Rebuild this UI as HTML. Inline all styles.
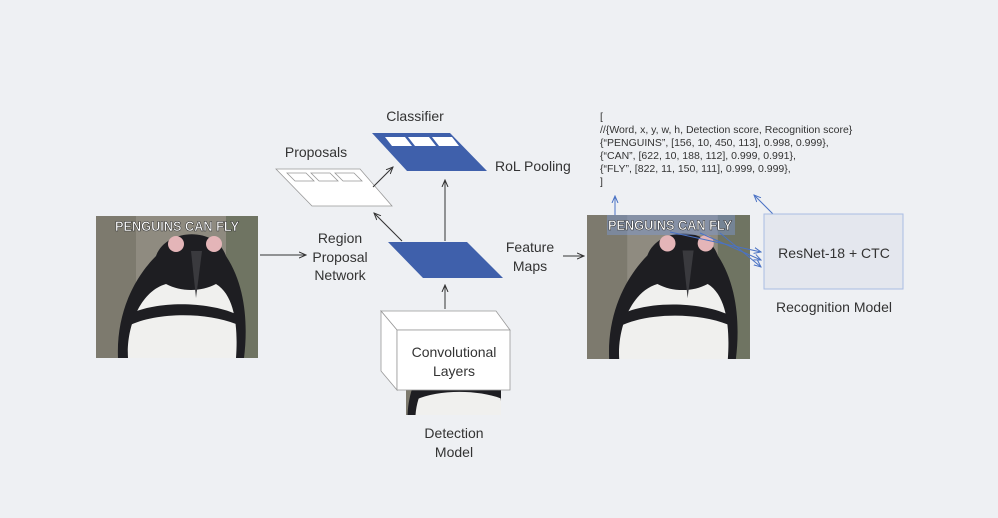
<!DOCTYPE html>
<html><head><style>
body{margin:0;background:#eef0f3;}
svg{display:block;font-family:"Liberation Sans",sans-serif;}
</style></head><body>
<svg width="998" height="518" viewBox="0 0 998 518">
<defs>
<marker id="a" markerWidth="8" markerHeight="8" refX="7" refY="4" orient="auto"><path d="M0,1 L7,4 L0,7" fill="none" stroke="#333" stroke-width="1"/></marker>
<marker id="b" markerWidth="8" markerHeight="8" refX="7" refY="4" orient="auto"><path d="M0,1 L7,4 L0,7" fill="none" stroke="#4a72c4" stroke-width="1"/></marker>
<g id="peng">
<rect width="162" height="142" fill="#8f8b80"/>
<rect x="0" y="0" width="40" height="142" fill="#7d7a6e"/>
<rect x="130" y="0" width="32" height="142" fill="#6f7462"/>
<path d="M22,142 C20,95 40,60 60,40 C70,12 120,10 130,40 C150,70 152,110 148,142 Z" fill="#1e1e22"/>
<path d="M32,142 C30,110 45,75 70,68 C85,76 105,76 120,68 C140,80 142,115 140,142 Z" fill="#f0f0ee"/>
<path d="M34,98 C60,85 110,85 140,98 L140,108 C110,96 60,96 32,110 Z" fill="#1e1e22"/>
<circle cx="80" cy="28" r="8" fill="#e4b5b8"/><circle cx="118" cy="28" r="8" fill="#e4b5b8"/>
<path d="M95,35 L106,35 L100,82 Z" fill="#3a3a3e"/>
</g>
</defs>
<!-- image 1 -->
<g transform="translate(96,216)"><use href="#peng"/>
<text x="81" y="15" font-size="14" font-weight="bold" fill="#fff" stroke="#333" stroke-width="0.6" text-anchor="middle" textLength="124" lengthAdjust="spacingAndGlyphs">PENGUINS CAN FLY</text></g>
<line x1="260" y1="255" x2="306" y2="255" stroke="#333" marker-end="url(#a)"/>
<text font-size="14" fill="#333" text-anchor="middle"><tspan x="340" y="243">Region</tspan><tspan x="340" y="262">Proposal</tspan><tspan x="340" y="280">Network</tspan></text>
<!-- proposals -->
<text x="316" y="157" font-size="14" fill="#333" text-anchor="middle">Proposals</text>
<polygon points="276,169 360,169 392,206 312,206" fill="#fff" stroke="#999" stroke-width="0.8"/>
<polygon points="287,173 306,173 314,181 295,181" fill="#fff" stroke="#999" stroke-width="0.8"/>
<polygon points="311,173 330,173 338,181 319,181" fill="#fff" stroke="#999" stroke-width="0.8"/>
<polygon points="335,173 354,173 362,181 343,181" fill="#fff" stroke="#999" stroke-width="0.8"/>
<line x1="373" y1="187" x2="393" y2="167" stroke="#333" marker-end="url(#a)"/>
<line x1="402" y1="241" x2="374" y2="213" stroke="#333" marker-end="url(#a)"/>
<!-- classifier -->
<text x="415" y="121" font-size="14" fill="#333" text-anchor="middle">Classifier</text>
<polygon points="372,133 450,133 487,171 407,171" fill="#3f60ab"/>
<polygon points="385,137 405,137 412,146 392,146" fill="#fff"/>
<polygon points="408,137 429,137 436,146 415,146" fill="#fff"/>
<polygon points="432,137 452,137 459,146 439,146" fill="#fff"/>
<text x="495" y="171" font-size="14" fill="#333">RoL Pooling</text>
<line x1="445" y1="241" x2="445" y2="180" stroke="#333" marker-end="url(#a)"/>
<!-- feature maps -->
<polygon points="388,242 467,242 503,278 423,278" fill="#3f60ab"/>
<text font-size="14" fill="#333" text-anchor="middle"><tspan x="530" y="252">Feature</tspan><tspan x="530" y="271">Maps</tspan></text>
<line x1="563" y1="256" x2="584" y2="256" stroke="#333" marker-end="url(#a)"/>
<line x1="445" y1="309" x2="445" y2="285" stroke="#333" marker-end="url(#a)"/>
<!-- conv -->
<svg x="406" y="385" width="95" height="30" viewBox="20 90 120 40" preserveAspectRatio="none"><use href="#peng"/></svg>
<polygon points="381,311 496,311 510,330 397,330" fill="#fff" stroke="#999" stroke-width="0.8"/>
<polygon points="381,311 397,330 397,390 381,371" fill="#fff" stroke="#999" stroke-width="0.8"/>
<rect x="397" y="330" width="113" height="60" fill="#fff" stroke="#999" stroke-width="0.8"/>
<text font-size="14" fill="#333" text-anchor="middle"><tspan x="454" y="357">Convolutional</tspan><tspan x="454" y="376">Layers</tspan></text>
<text font-size="14" fill="#333" text-anchor="middle"><tspan x="454" y="438">Detection</tspan><tspan x="454" y="457">Model</tspan></text>
<!-- image 2 -->
<g transform="translate(587,215)"><use href="#peng" transform="scale(1.006,1.014)"/>
<rect x="20" y="0" width="128" height="20" fill="#7d98d4" opacity="0.45"/>
<text x="83" y="15" font-size="14" font-weight="bold" fill="#fff" stroke="#333" stroke-width="0.6" text-anchor="middle" textLength="124" lengthAdjust="spacingAndGlyphs">PENGUINS CAN FLY</text></g>
<line x1="670" y1="232" x2="761" y2="252" stroke="#4a72c4" marker-end="url(#b)"/>
<line x1="700" y1="233" x2="761" y2="260" stroke="#4a72c4" marker-end="url(#b)"/>
<line x1="720" y1="233" x2="761" y2="267" stroke="#4a72c4" marker-end="url(#b)"/>
<line x1="615" y1="215" x2="615" y2="196" stroke="#4a72c4" marker-end="url(#b)"/>
<line x1="773" y1="214" x2="754" y2="195" stroke="#4a72c4" marker-end="url(#b)"/>
<rect x="764" y="214" width="139" height="75" fill="#e4e7ee" stroke="#a9bde3" stroke-width="1"/>
<text x="834" y="258" font-size="14" fill="#333" text-anchor="middle">ResNet-18 + CTC</text>
<text x="834" y="312" font-size="14" fill="#333" text-anchor="middle">Recognition Model</text>
<!-- json -->
<g font-size="10.5" fill="#333">
<text x="600" y="120">[</text>
<text x="600" y="133">//{Word, x, y, w, h, Detection score, Recognition score}</text>
<text x="600" y="146">{“PENGUINS”, [156, 10, 450, 113], 0.998, 0.999},</text>
<text x="600" y="159">{“CAN”, [622, 10, 188, 112], 0.999, 0.991},</text>
<text x="600" y="172">{“FLY”, [822, 11, 150, 111], 0.999, 0.999},</text>
<text x="600" y="185">]</text>
</g>
</svg>
</body></html>
